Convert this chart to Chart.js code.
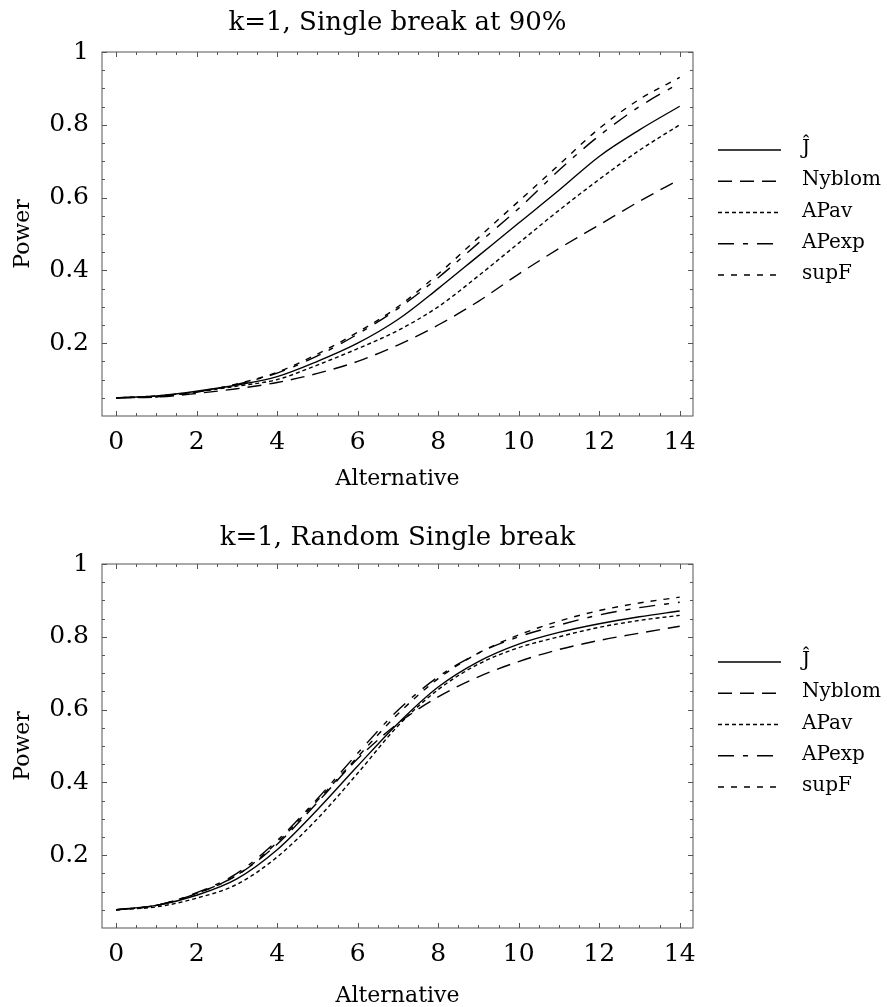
<!DOCTYPE html>
<html>
<head>
<meta charset="utf-8">
<script src="https://cdn.jsdelivr.net/npm/chart.js@4.4.1/dist/chart.umd.min.js"></script>
<style>
  body { margin: 0; background: #ffffff; overflow: hidden; }
  canvas { position: absolute; left: 0; }
  #chartTop { top: 0; }
  #chartBottom { top: 512px; }
</style>
</head>
<body>
<canvas id="chartTop" width="887" height="495"></canvas>
<canvas id="chartBottom" width="887" height="495"></canvas>
<script>
// alternative values on the x axis
const ALT = [0, 1, 2, 3, 4, 5, 6, 7, 8, 9, 10, 11, 12, 13, 14];
const X_TICKS = [0, 2, 4, 6, 8, 10, 12, 14];
const Y_TICKS = [0.2, 0.4, 0.6, 0.8, 1];
const NAMES = ['Ĵ', 'Nyblom', 'APav', 'APexp', 'supF'];

// k=1, single break at 90%
const TOP_J      = [0.05, 0.055, 0.068, 0.085, 0.108, 0.15, 0.20, 0.265, 0.35, 0.44, 0.53, 0.62, 0.713, 0.786, 0.851];
const TOP_NYBLOM = [0.05, 0.052, 0.062, 0.075, 0.092, 0.117, 0.15, 0.195, 0.25, 0.315, 0.39, 0.46, 0.525, 0.59, 0.65];
const TOP_APAV   = [0.05, 0.055, 0.066, 0.082, 0.10, 0.14, 0.185, 0.235, 0.30, 0.385, 0.475, 0.565, 0.65, 0.73, 0.80];
const TOP_APEXP  = [0.05, 0.053, 0.066, 0.087, 0.118, 0.165, 0.225, 0.295, 0.38, 0.475, 0.57, 0.675, 0.77, 0.85, 0.915];
const TOP_SUPF   = [0.05, 0.053, 0.066, 0.088, 0.12, 0.17, 0.23, 0.30, 0.39, 0.49, 0.59, 0.69, 0.79, 0.87, 0.93];

// k=1, random single break
const BOT_J      = [0.05, 0.062, 0.09, 0.135, 0.215, 0.325, 0.445, 0.562, 0.662, 0.732, 0.78, 0.812, 0.836, 0.855, 0.871];
const BOT_NYBLOM = [0.05, 0.062, 0.095, 0.145, 0.23, 0.345, 0.465, 0.562, 0.635, 0.69, 0.732, 0.765, 0.79, 0.81, 0.829];
const BOT_APAV   = [0.05, 0.058, 0.082, 0.12, 0.195, 0.30, 0.425, 0.555, 0.655, 0.725, 0.77, 0.80, 0.826, 0.845, 0.859];
const BOT_APEXP  = [0.05, 0.062, 0.097, 0.15, 0.24, 0.355, 0.48, 0.598, 0.69, 0.755, 0.80, 0.832, 0.86, 0.88, 0.895];
const BOT_SUPF   = [0.05, 0.062, 0.095, 0.145, 0.235, 0.35, 0.47, 0.588, 0.685, 0.755, 0.805, 0.843, 0.872, 0.893, 0.909];

const DASHES = [[], [14, 8], [4, 3], [16, 9, 5, 9], [6, 7]];
const FONT = 'DejaVu Serif';

// frame with inward ticks on all four sides, plus the legend at the right
const framePlugin = {
  id: 'frame',
  afterDraw(chart) {
    const { ctx, chartArea: a, scales: { x, y } } = chart;
    ctx.save();
    ctx.strokeStyle = '#555';
    ctx.lineWidth = 1;
    ctx.setLineDash([]);
    ctx.strokeRect(a.left, a.top, a.right - a.left, a.bottom - a.top);
    ctx.beginPath();
    for (let v = 0; v <= 14.001; v += 0.5) {
      const px = Math.round(x.getPixelForValue(v)) + 0.5;
      const len = Math.abs(v % 2) < 1e-6 ? 5 : 3;
      ctx.moveTo(px, a.bottom); ctx.lineTo(px, a.bottom - len);
      ctx.moveTo(px, a.top); ctx.lineTo(px, a.top + len);
    }
    for (let i = 1; i <= 20; i++) {
      const v = i * 0.05;
      const py = Math.round(y.getPixelForValue(v)) + 0.5;
      const len = i % 4 === 0 ? 5 : 3;
      ctx.moveTo(a.left, py); ctx.lineTo(a.left + len, py);
      ctx.moveTo(a.right, py); ctx.lineTo(a.right - len, py);
    }
    ctx.stroke();

    // legend
    ctx.font = '20px "' + FONT + '"';
    ctx.textBaseline = 'middle';
    ctx.fillStyle = '#000';
    chart.data.datasets.forEach((ds, i) => {
      const ly = a.top + 98 + i * 31.25;
      ctx.strokeStyle = '#000';
      ctx.lineWidth = 1.4;
      ctx.setLineDash(ds.borderDash);
      ctx.beginPath();
      ctx.moveTo(718, ly);
      ctx.lineTo(781, ly);
      ctx.stroke();
      ctx.fillText(ds.label, 802, ly - 1);
    });
    ctx.restore();
  }
};

function makeChart(id, title, series, pad) {
  const datasets = series.map((vals, i) => ({
    label: NAMES[i],
    data: ALT.map((x, j) => ({ x: x, y: vals[j] })),
    borderColor: '#000',
    borderWidth: 1.4,
    borderDash: DASHES[i],
    pointRadius: 0,
    cubicInterpolationMode: 'monotone',
    fill: false,
  }));

  return new Chart(document.getElementById(id), {
    type: 'line',
    data: { datasets },
    options: {
      responsive: false,
      animation: false,
      layout: { padding: { left: 0, right: 194, top: 0, bottom: 0 } },
      plugins: {
        legend: { display: false },
        tooltip: { enabled: false },
        title: {
          display: true,
          text: title,
          fullSize: false,
          color: '#000',
          font: { family: FONT, size: 26, weight: 'normal' },
          padding: { top: pad.titleTop, bottom: 20.8 - pad.titleTop },
        },
      },
      scales: {
        x: {
          type: 'linear',
          min: -0.35,
          max: 14.33,
          afterFit: (s) => { s.height = 79; },
          afterBuildTicks: (s) => { s.ticks = X_TICKS.map((v) => ({ value: v })); },
          grid: { display: false, drawTicks: false },
          border: { display: false },
          ticks: {
            autoSkip: false,
            maxRotation: 0,
            padding: 11,
            color: '#000',
            font: { family: FONT, size: 25 },
          },
          title: {
            display: true,
            text: 'Alternative',
            color: '#000',
            font: { family: FONT, size: 22, lineHeight: pad.altLine },
            padding: { top: 0, bottom: pad.altBottom },
          },
        },
        y: {
          type: 'linear',
          min: 0,
          max: 1,
          afterFit: (s) => { s.width = 102; },
          afterBuildTicks: (s) => { s.ticks = Y_TICKS.map((v) => ({ value: v })); },
          grid: { display: false, drawTicks: false },
          border: { display: false },
          ticks: {
            padding: 13,
            color: '#000',
            font: { family: FONT, size: 25 },
            callback: (v) => String(v),
          },
          title: {
            display: true,
            text: 'Power',
            color: '#000',
            font: { family: FONT, size: 22 },
            padding: { top: 10, bottom: 0 },
          },
        },
      },
    },
    plugins: [framePlugin],
  });
}

makeChart('chartTop', 'k=1, Single break at 90%',
  [TOP_J, TOP_NYBLOM, TOP_APAV, TOP_APEXP, TOP_SUPF],
  { titleTop: 8, altLine: 1.2, altBottom: 3 });
makeChart('chartBottom', 'k=1, Random Single break',
  [BOT_J, BOT_NYBLOM, BOT_APAV, BOT_APEXP, BOT_SUPF],
  { titleTop: 11, altLine: 1.0, altBottom: 0 });
</script>
</body>
</html>
